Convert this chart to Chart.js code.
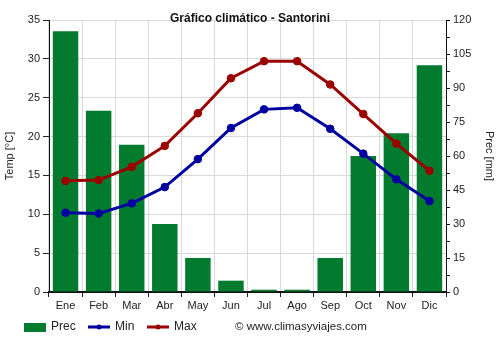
<!DOCTYPE html>
<html lang="es">
<head>
    <meta charset="UTF-8">
    <title>Gráfico climático - Santorini</title>
    <style>
        body { margin: 0; background: #fff; }
        #wrap { width: 500px; height: 350px; }
    </style>
</head>
<body>
    <div id="wrap"><canvas id="chart" width="500" height="350"></canvas></div>
    <script src="https://cdn.jsdelivr.net/npm/chart.js"></script>
    <script>
        const meses = ['Ene', 'Feb', 'Mar', 'Abr', 'May', 'Jun', 'Jul', 'Ago', 'Sep', 'Oct', 'Nov', 'Dic'];
        const prec = [115, 80, 65, 30, 15, 5, 1, 1, 15, 60, 70, 100];
        const tMin = [10.2, 10.1, 11.4, 13.5, 17.1, 21.1, 23.5, 23.7, 21.0, 17.8, 14.5, 11.7];
        const tMax = [14.3, 14.4, 16.1, 18.8, 23.0, 27.5, 29.7, 29.7, 26.7, 22.9, 19.1, 15.6];

        const FONT = '"Liberation Sans", Arial, sans-serif';
        const verde = '#037b2f';
        const azul = '#0000a0';
        const rojo = '#9b0000';

        // leyenda y copyright dibujados a mano, abajo
        const leyenda = {
            id: 'leyenda',
            afterDraw(chart) {
                const ctx = chart.ctx;
                const y = 327;
                ctx.save();
                ctx.font = '12px ' + FONT;
                ctx.textBaseline = 'middle';
                ctx.fillStyle = verde;
                ctx.fillRect(24, y - 4, 22, 9);
                ctx.fillStyle = '#222';
                ctx.fillText(chart.data.datasets[0].label, 51, y);

                [[1, 88, 115], [2, 147, 174]].forEach(([i, x, tx]) => {
                    const ds = chart.data.datasets[i];
                    ctx.strokeStyle = ds.borderColor;
                    ctx.lineWidth = 3;
                    ctx.beginPath();
                    ctx.moveTo(x, y);
                    ctx.lineTo(x + 22, y);
                    ctx.stroke();
                    ctx.fillStyle = ds.borderColor;
                    ctx.beginPath();
                    ctx.arc(x + 11, y, 2.5, 0, Math.PI * 2);
                    ctx.fill();
                    ctx.fillStyle = '#222';
                    ctx.fillText(ds.label, tx, y);
                });

                ctx.font = '11.5px ' + FONT;
                ctx.fillText('© www.climasyviajes.com', 235, y);
                ctx.restore();
            }
        };

        new Chart(document.getElementById('chart'), {
            data: {
                labels: meses,
                datasets: [
                    {
                        type: 'bar',
                        label: 'Prec',
                        data: prec,
                        yAxisID: 'y2',
                        backgroundColor: verde,
                        categoryPercentage: 1,
                        barPercentage: 0.77,
                        order: 3
                    },
                    {
                        type: 'line',
                        label: 'Min',
                        data: tMin,
                        yAxisID: 'y',
                        borderColor: azul,
                        backgroundColor: azul,
                        borderWidth: 3,
                        pointRadius: 3.8,
                        pointBorderWidth: 1,
                        tension: 0,
                        order: 1
                    },
                    {
                        type: 'line',
                        label: 'Max',
                        data: tMax,
                        yAxisID: 'y',
                        borderColor: rojo,
                        backgroundColor: rojo,
                        borderWidth: 3,
                        pointRadius: 3.8,
                        pointBorderWidth: 1,
                        tension: 0,
                        order: 2
                    }
                ]
            },
            options: {
                responsive: false,
                animation: false,
                layout: { padding: { left: 0, right: 0, top: 0, bottom: 0 } },
                plugins: {
                    legend: { display: false },
                    tooltip: { enabled: false },
                    title: {
                        display: true,
                        text: 'Gráfico climático - Santorini',
                        color: '#111',
                        font: { family: FONT, size: 12, weight: 'bold' },
                        padding: { top: 11, bottom: -5.4 }
                    }
                },
                scales: {
                    x: {
                        offset: true,
                        grid: { color: '#d9d9d9', offset: true, tickLength: 5, tickColor: '#222' },
                        border: { color: '#111', width: 2 },
                        ticks: { color: '#222', font: { family: FONT, size: 11 }, padding: 2, maxRotation: 0 },
                        afterFit(scale) { scale.height = 58; }
                    },
                    y: {
                        position: 'left',
                        min: 0,
                        max: 35,
                        ticks: { stepSize: 5, color: '#222', font: { family: FONT, size: 11 }, padding: 3 },
                        grid: { color: '#d9d9d9', tickLength: 6, tickColor: '#222' },
                        border: { color: '#111', width: 1 },
                        title: { display: true, text: 'Temp [°C]', color: '#222', font: { family: FONT, size: 11 }, padding: { top: 3 } },
                        afterFit(scale) { scale.width = 49; }
                    },
                    y2: {
                        position: 'right',
                        min: 0,
                        max: 120,
                        ticks: {
                            stepSize: 7.5,
                            color: '#222',
                            font: { family: FONT, size: 11 },
                            padding: 3,
                            callback: v => (v % 15 === 0 ? v : '')
                        },
                        grid: { drawOnChartArea: false, tickLength: 4, tickColor: '#111' },
                        border: { color: '#111', width: 1 },
                        title: { display: true, text: 'Prec [mm]', color: '#222', font: { family: FONT, size: 11 }, padding: { top: 4 } },
                        afterFit(scale) { scale.width = 54; }
                    }
                }
            },
            plugins: [leyenda]
        });
    </script>
</body>
</html>
